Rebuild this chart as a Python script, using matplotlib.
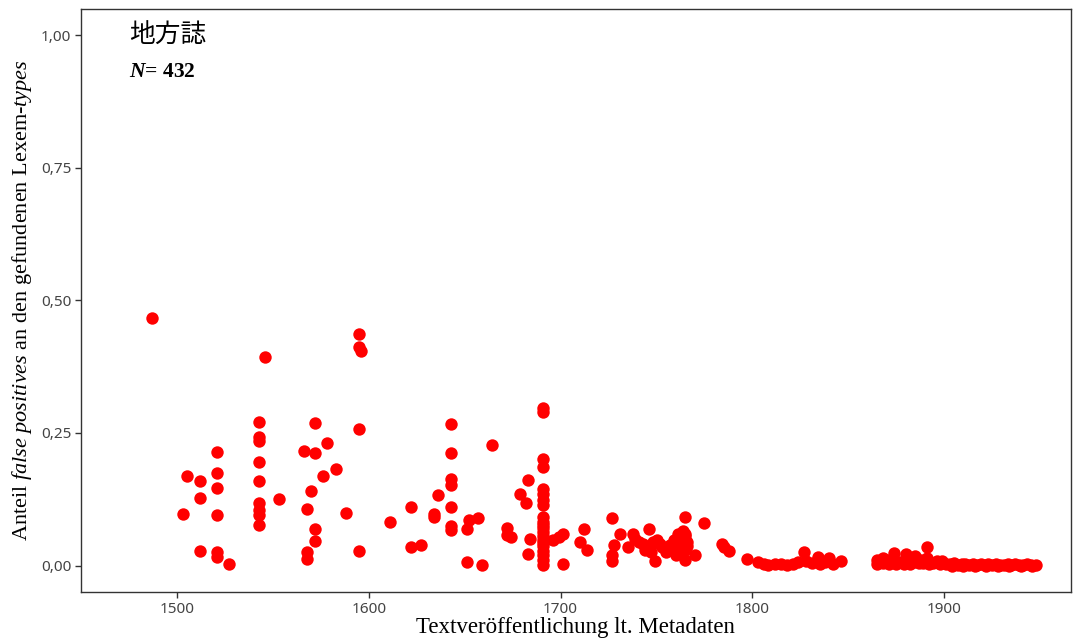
import matplotlib
matplotlib.use('Agg')
import matplotlib.pyplot as plt
from matplotlib.ticker import FuncFormatter

# share of false positives per text
years = [1487, 1503, 1505, 1512, 1512, 1512, 1521, 1521, 1521, 1521, 1521, 1521, 1527,
         1543, 1543, 1543, 1543, 1543, 1543, 1543, 1543, 1543, 1546, 1553,
         1566, 1568, 1568, 1568, 1570, 1572, 1572, 1572, 1572, 1576, 1578, 1583, 1588,
         1595, 1595, 1596, 1595, 1595,
         1611, 1622, 1622, 1627, 1634, 1634, 1636,
         1643, 1643, 1643, 1643, 1643, 1643, 1643, 1651, 1652, 1651, 1657, 1659, 1664,
         1672, 1672, 1674, 1679, 1682, 1683, 1684, 1683,
         1691, 1691, 1691, 1691, 1691, 1691, 1691, 1691, 1691, 1691, 1691,
         1691, 1691, 1691, 1691, 1691, 1691, 1691, 1691, 1691, 1691,
         1696, 1699, 1701, 1701, 1710, 1712, 1714,
         1727, 1728, 1727, 1727, 1731, 1735, 1738, 1741, 1744, 1746, 1747, 1749,
         1750, 1753, 1755, 1757, 1759, 1761, 1764, 1765, 1765, 1765, 1765, 1766,
         1770, 1775, 1784, 1785, 1788,
         1739, 1743, 1746, 1748, 1752, 1758, 1760, 1762, 1763, 1765, 1765, 1766,
         1797, 1803, 1806, 1808, 1812, 1815, 1818, 1821, 1824, 1827, 1828, 1831,
         1834, 1835, 1838, 1840, 1842, 1846,
         1865, 1865, 1866, 1868, 1868, 1870, 1871, 1873, 1874, 1875, 1877, 1879,
         1880, 1881, 1882, 1884, 1885, 1887, 1888, 1889, 1891, 1891, 1891, 1892,
         1894, 1896, 1898, 1899,
         1901, 1903, 1905, 1907, 1909, 1911, 1913, 1915, 1917, 1919, 1921, 1923,
         1925, 1927, 1929, 1931, 1933, 1935, 1937, 1939, 1941, 1943, 1945, 1948,
         1904, 1910, 1916, 1922, 1928, 1934, 1940, 1946]
shares = [0.467, 0.097, 0.168, 0.159, 0.127, 0.027, 0.214, 0.175, 0.146, 0.095, 0.025, 0.016, 0.002,
          0.270, 0.243, 0.234, 0.196, 0.160, 0.118, 0.105, 0.095, 0.077, 0.393, 0.125,
          0.216, 0.107, 0.026, 0.012, 0.140, 0.268, 0.213, 0.068, 0.047, 0.168, 0.232, 0.182, 0.099,
          0.437, 0.412, 0.404, 0.257, 0.027,
          0.082, 0.110, 0.034, 0.038, 0.097, 0.091, 0.133,
          0.267, 0.212, 0.163, 0.152, 0.110, 0.075, 0.067, 0.006, 0.085, 0.068, 0.089, 0.001, 0.228,
          0.070, 0.057, 0.054, 0.135, 0.117, 0.161, 0.050, 0.021,
          0.298, 0.289, 0.200, 0.186, 0.145, 0.135, 0.124, 0.115, 0.092, 0.083, 0.077,
          0.070, 0.063, 0.056, 0.049, 0.043, 0.036, 0.028, 0.020, 0.011, 0.001,
          0.048, 0.054, 0.060, 0.003, 0.044, 0.068, 0.030,
          0.090, 0.038, 0.020, 0.009, 0.059, 0.034, 0.059, 0.044, 0.030, 0.068, 0.025, 0.009,
          0.049, 0.034, 0.025, 0.038, 0.049, 0.059, 0.066, 0.091, 0.049, 0.030, 0.011, 0.044,
          0.019, 0.080, 0.040, 0.034, 0.028,
          0.050, 0.040, 0.035, 0.045, 0.040, 0.030, 0.020, 0.040, 0.025, 0.060, 0.055, 0.036,
          0.012, 0.006, 0.002, 0.001, 0.003, 0.002, 0.001, 0.002, 0.006, 0.026, 0.009, 0.004,
          0.016, 0.002, 0.006, 0.014, 0.002, 0.008,
          0.010, 0.003, 0.006, 0.015, 0.004, 0.011, 0.003, 0.008, 0.024, 0.003, 0.007, 0.003,
          0.022, 0.010, 0.003, 0.006, 0.018, 0.004, 0.010, 0.005, 0.034, 0.015, 0.006, 0.002,
          0.004, 0.009, 0.002, 0.008,
          0.003, 0.002, 0.004, 0.001, 0.002, 0.003, 0.001, 0.002, 0.001, 0.002, 0.001, 0.002,
          0.001, 0.002, 0.001, 0.001, 0.002, 0.001, 0.002, 0.001, 0.001, 0.002, 0.001, 0.001,
          0.000, 0.000, 0.000, 0.000, 0.000, 0.000, 0.000, 0.000]

title = "地方誌"
n_docs = 432
x_ticks = [1500, 1600, 1700, 1800, 1900]
y_ticks = [0.0, 0.25, 0.5, 0.75, 1.0]

plt.rcParams['mathtext.fontset'] = 'custom'
plt.rcParams['mathtext.rm'] = 'Liberation Serif'
plt.rcParams['mathtext.it'] = 'Liberation Serif:italic'
plt.rcParams['mathtext.bf'] = 'Liberation Serif:bold'
plt.rcParams['mathtext.bfit'] = 'Liberation Serif:italic:bold'

fig = plt.figure(figsize=(10.73, 6.38), dpi=100)
ax = fig.add_axes([0.0755, 0.0721, 0.9225, 0.9138])

ax.scatter(years, shares, s=80, color='#ff0000', linewidths=0, zorder=3)

ax.set_xlim(1450, 1966)
ax.set_ylim(-0.05, 1.05)
ax.set_xticks(x_ticks)
ax.set_yticks(y_ticks)
ax.yaxis.set_major_formatter(FuncFormatter(lambda v, p: f"{v:.2f}".replace('.', ',')))

for s in ax.spines.values():
    s.set_color('#333333')
    s.set_linewidth(1.0)
ax.tick_params(direction='out', length=4, width=1, color='#333333',
               labelcolor='#444444', labelsize=11, pad=3)
for lab in ax.get_xticklabels() + ax.get_yticklabels():
    lab.set_fontfamily('Noto Sans')

ax.set_xlabel("Textveröffentlichung lt. Metadaten", family='Liberation Serif',
              fontsize=16.5, labelpad=0)
ax.set_ylabel(r"Anteil $\mathit{false\ positives}$ an den gefundenen Lexem-$\mathit{types}$",
              family='Liberation Serif', fontsize=16, labelpad=5)

ax.text(1475, 1.0, title, family=['Noto Sans CJK JP', 'DejaVu Sans'], fontsize=18.5,
        ha='left', va='center')
ax.text(1475, 0.932, r"$\mathbfit{N}$= " + str(n_docs), family='Liberation Serif',
        fontweight='bold', fontsize=15.5, ha='left', va='center')

fig.savefig('out.png', dpi=100)
